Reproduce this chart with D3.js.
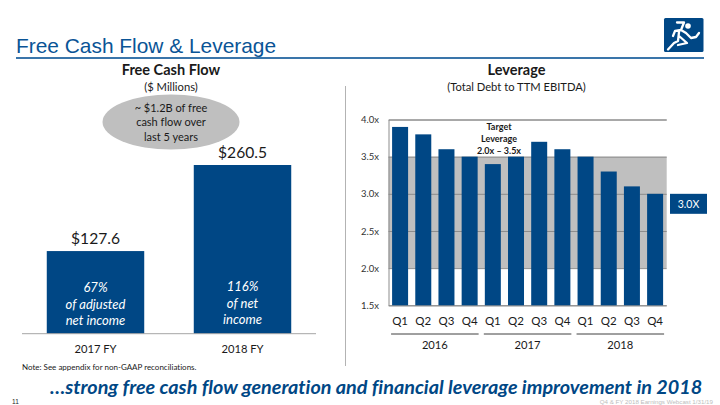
<!DOCTYPE html>
<html><head><meta charset="utf-8">
<script src="https://cdn.jsdelivr.net/npm/d3@7/dist/d3.min.js"></script>
<style>
html,body{margin:0;padding:0;background:#fff}
svg{display:block}
text{font-family:Lato,Carlito,sans-serif;fill:#1a1a1a;font-variant-ligatures:none}
</style></head><body>
<svg id="c" width="720" height="405"></svg>
<script>
const fcfCategories = ["2017 FY", "2018 FY"];
const fcfValues = [127.6, 260.5];
const fcfLabels = ["$127.6", "$260.5"];
const fcfNotes = [["67%", "of adjusted", "net income"], ["116%", "of net", "income"]];
const quarters = ["Q1","Q2","Q3","Q4","Q1","Q2","Q3","Q4","Q1","Q2","Q3","Q4"];
const years = ["2016","2017","2018"];
const leverage = [3.9,3.8,3.6,3.5,3.4,3.5,3.7,3.6,3.5,3.3,3.1,3.0];
const levTicks = [1.5,2.0,2.5,3.0,3.5,4.0];
const targetBand = [2.0,3.5];
const calloutLines = ["~ $1.2B of free","cash flow over","last 5 years"];
const targetLines = ["Target","Leverage","2.0x – 3.5x"];

const BLUE="#004785", svg=d3.select("#c");
const txt=(x,y,s,size,o={})=>svg.append("text").attr("x",x).attr("y",y).text(s)
  .attr("font-size",size).attr("text-anchor",o.a||"middle")
  .attr("font-weight",o.w||"normal").attr("font-style",o.i?"italic":"normal")
  .style("fill",o.c||"#1a1a1a").style("font-family",o.f||null);

// header
txt(16,53,"Free Cash Flow & Leverage",20.9,{a:"start",c:"#0a5496",f:"'Liberation Sans',Arial,sans-serif"});
svg.append("rect").attr("x",16).attr("y",57.2).attr("width",688).attr("height",1.6).attr("fill","#0a5496");

// logo
const logo=svg.append("g").attr("transform","translate(664,18)");
logo.append("rect").attr("width",39.5).attr("height",34).attr("rx",1.5).attr("fill",BLUE);
logo.append("circle").attr("cx",24).attr("cy",8).attr("r",2.8).attr("fill","#fff");
logo.append("path").attr("d","M13 4.5 L20 4.5 L17 12 L22 15 L27 20 L32 19 L35 15 M17 12 L11 13 L9 18 M15 14 L14 23 L10 25 L4 31.5 M15 18 L23 25 L14 27")
  .attr("fill","none").attr("stroke","#fff").attr("stroke-width",2.3).attr("stroke-linejoin","round").attr("stroke-linecap","round");

// left titles
txt(171,75,"Free Cash Flow",14.5,{w:"bold"});
txt(171,91,"($ Millions)",11.2);
svg.append("ellipse").attr("cx",171).attr("cy",122).attr("rx",68.5).attr("ry",27.5).attr("fill","#bfbfbf");
calloutLines.forEach((s,i)=>txt(171,112+i*14.4,s,11));

// FCF chart
const xF=d3.scaleBand().domain(fcfCategories).range([22,316]).paddingInner(0.337).paddingOuter(0.1685);
const yF=d3.scaleLinear().domain([0,260.5]).range([333.7,165]);
const cat=d=>fcfCategories[d];
svg.append("g").selectAll("rect").data(fcfValues).join("rect")
  .attr("x",(d,i)=>xF(cat(i))).attr("width",xF.bandwidth())
  .attr("y",d=>yF(d)).attr("height",d=>yF(0)-yF(d)).attr("fill",BLUE);
fcfValues.forEach((v,i)=>{
  const cx=xF(cat(i))+xF.bandwidth()/2;
  txt(cx,yF(v)-7,fcfLabels[i],15.6);
  fcfNotes[i].forEach((s,j)=>txt(cx,(i?291:292)+j*16.7,s,13,{i:true,c:"#fff"}));
  txt(cx,353,cat(i),11.2);
});
svg.append("line").attr("x1",22).attr("x2",316).attr("y1",333.7).attr("y2",333.7).attr("stroke","#a6a6a6").attr("stroke-width",1);

// divider
svg.append("line").attr("x1",345.5).attr("x2",345.5).attr("y1",86).attr("y2",366).attr("stroke","#b3b3b3").attr("stroke-width",1);

// right titles
txt(516.5,75,"Leverage",14.5,{w:"bold"});
txt(516.5,91,"(Total Debt to TTM EBITDA)",11.2);

// leverage chart
const xL=d3.scaleBand().domain(d3.range(quarters.length)).range([388.5,666.7]).paddingInner(0.31).paddingOuter(0.155);
const yL=d3.scaleLinear().domain([1.5,4.0]).range([305.3,119.5]);
svg.append("rect").attr("x",388.5).attr("width",278.2).attr("y",yL(targetBand[1]))
  .attr("height",yL(targetBand[0])-yL(targetBand[1])).attr("fill","#bfbfbf");
const gy=svg.append("g").attr("transform","translate(388.5,0)")
  .call(d3.axisLeft(yL).tickValues(levTicks).tickSize(-278.2).tickFormat(d=>d3.format(".1f")(d)+"x"));
gy.select(".domain").attr("stroke","#8c8c8c");
gy.selectAll(".tick line").attr("stroke","#8c8c8c").attr("stroke-width",1);
gy.selectAll(".tick text").attr("x",-9.5).attr("font-size",9.5).style("font-family","Lato,sans-serif").style("fill","#333");
svg.append("g").selectAll("rect").data(leverage).join("rect")
  .attr("x",(d,i)=>xL(i)).attr("width",xL.bandwidth())
  .attr("y",d=>yL(d)).attr("height",d=>yL(1.5)-yL(d)).attr("fill",BLUE);
targetLines.forEach((s,i)=>txt(499,130+i*12,s,9,{w:"bold"}));
quarters.forEach((q,i)=>txt(xL(i)+xL.bandwidth()/2,325,q,11.5));
years.forEach((y,i)=>{
  const a=xL(i*4)-1, b=xL(i*4+3)+xL.bandwidth()+1;
  svg.append("line").attr("x1",a).attr("x2",b).attr("y1",334).attr("y2",334).attr("stroke","#404040").attr("stroke-width",1);
  txt((a+b)/2,349,y,11.2);
});
// 3.0X tag
const last=leverage[leverage.length-1];
svg.append("rect").attr("x",670).attr("y",yL(last)).attr("width",37).attr("height",20).attr("fill",BLUE);
txt(688.5,yL(last)+14,last.toFixed(1)+"X",10.5,{c:"#fff"});

// footer
txt(22,370,"Note: See appendix for non-GAAP reconciliations.",8,{a:"start"});
txt(50,394,"…strong free cash flow generation and financial leverage improvement in 2018",19.8,{a:"start",w:"bold",i:true,c:BLUE});
txt(12,404,"11",6.5,{a:"start",f:"'Liberation Sans',sans-serif"});
txt(713,404,"Q4 & FY 2018 Earnings Webcast 1/31/19",6.2,{a:"end",c:"#bdbdbd",f:"'Liberation Sans',sans-serif"});
</script>
</body></html>
